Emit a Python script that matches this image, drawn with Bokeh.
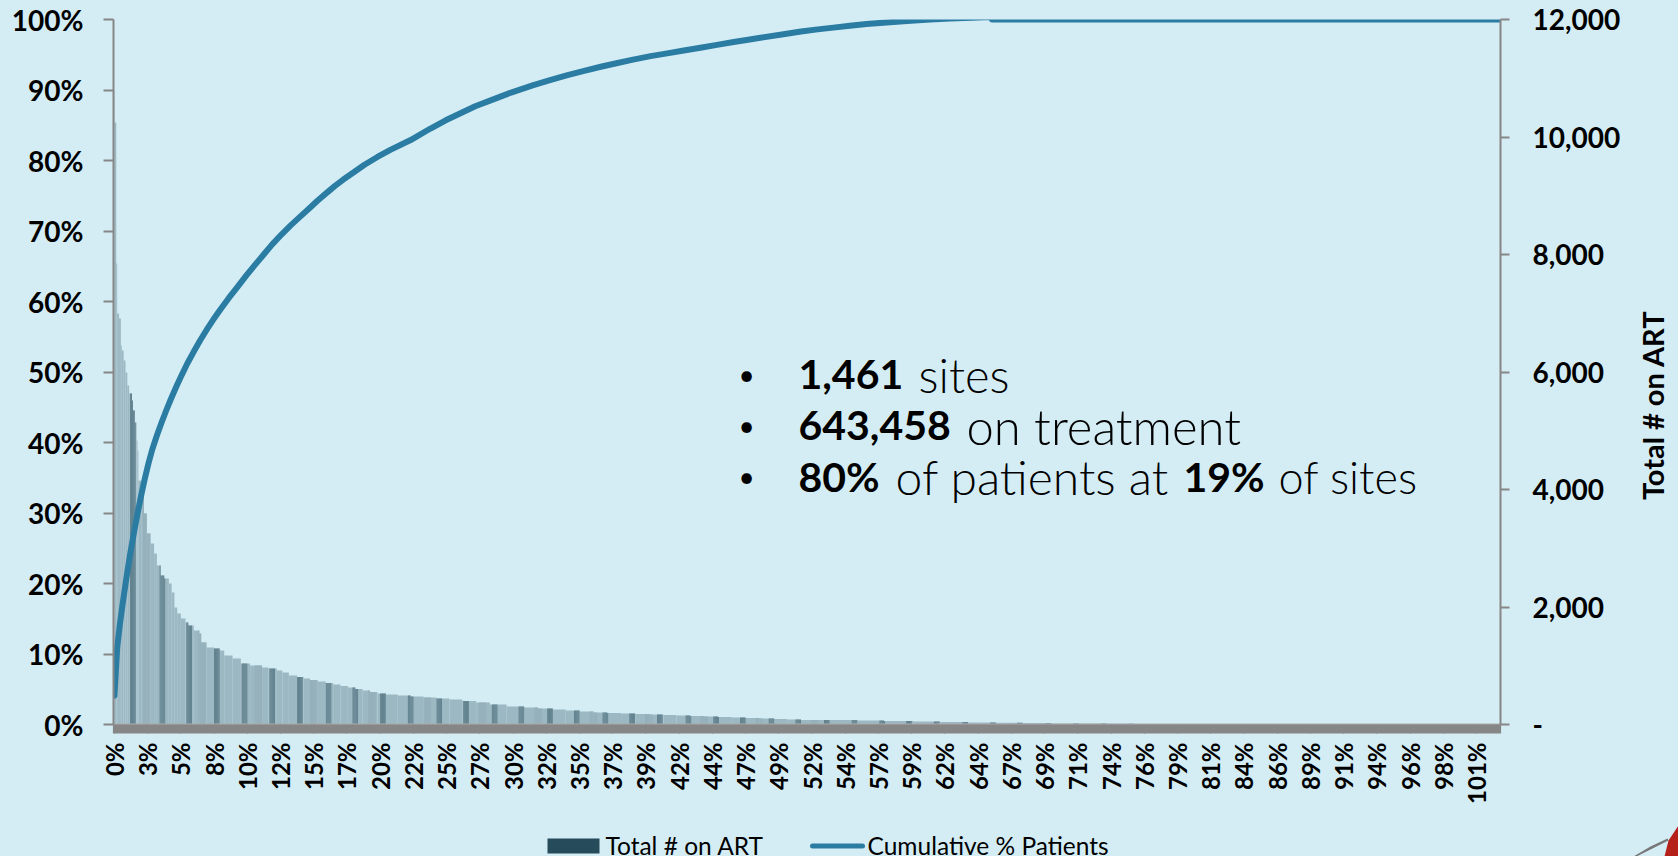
from math import pi
import bisect
from bokeh.plotting import figure
from bokeh.layouts import column, row
from bokeh.embed import file_html
from bokeh.resources import INLINE
from bokeh.core.properties import value
from bokeh.models import (Range1d, LinearAxis, FixedTicker, NumeralTickFormatter, Label)

# ---- data ----
tick_labels = ["0%","3%","5%","8%","10%","12%","15%","17%","20%","22%","25%","27%","30%","32%",
               "35%","37%","39%","42%","44%","47%","49%","52%","54%","57%","59%","62%","64%","67%",
               "69%","71%","74%","76%","79%","81%","84%","86%","89%","91%","94%","96%","98%","101%"]

rank_end = [1,3,4,6,8,9,11,13,15,17,20,21,23,25,26,27,30,33,36,40,44,47,51,55,60,63,66,69,73,78,81,87,93,95,
            101,109,115,120,129,138,148,161,168,177,183,190,199,206,213,221,230,238,246,254,262,270,278,286,
            295,308,322,336,350,364,378,393,408,426,445,460,476,490,505,520,535,550,566,581,596,610,625,640,
            655,670,685,700,716,730,745,776,806,835,867,896,926,956,986,1016,1047,1076,1106,1137,
            1167,1196,1232,1461]
on_art = [10790,10246,7846,6995,6910,6450,6365,6195,5991,5770,5634,5514,5344,5140,4834,4663,4153,4017,3591,
          3251,3081,2910,2706,2536,2485,2400,2247,1991,1889,1804,1736,1685,1600,1549,1396,1311,1294,1259,
          1174,1123,1038,1004,970,953,920,885,834,810,783,758,732,706,681,655,630,604,579,553,528,511,494,
          477,460,442,425,400,374,340,306,289,272,255,238,221,204,196,187,178,170,162,153,145,136,128,119,
          111,102,94,85,77,75,68,60,51,43,34,30,26,17,15,12,9,6,4,3,1]

stripe_rank = [18,50,79,109,139,169,199,230,259,289,319,350,379,410,439,470,499,530,559,589,620,650,679,710,
               739,770,800,830,859,889,920,950,979,1010,1040,1070,1100,1130,1160,1191]
band_rank = [32,92,153,213,276,336,396,456,516,576,636,696,756]

curve_rank = [1,4,7,10,14,18,22,26,30,34,38,42,47,52,57,62,68,74,80,87,94,101,108,116,125,134,144,154,163,172,
              182,192,202,212,221,230,240,249,260,272,286,300,322,343,360,376,392,408,430,455,473,492,510,528,
              545,563,582,600,618,636,654,672,686,701,726,745,763,780,798,816,834,860,885,907,930,950,952,1503]
curve_pct = [4.1,10.9,14.3,17.2,20.8,24.1,27.1,29.9,32.5,34.9,37.1,39.0,41.0,42.8,44.5,46.1,47.9,49.6,51.2,52.9,
             54.5,56.0,57.4,58.9,60.5,62.0,63.7,65.3,66.7,68.1,69.5,70.8,72.0,73.2,74.3,75.3,76.4,77.3,78.3,
             79.4,80.5,81.5,82.9,84.5,85.7,86.7,87.7,88.5,89.6,90.7,91.4,92.1,92.7,93.3,93.8,94.3,94.8,95.2,
             95.6,96.0,96.4,96.8,97.1,97.4,97.9,98.3,98.6,98.85,99.1,99.35,99.55,99.8,100.0,100.15,100.25,
             100.35,100,100]

BG = "#D4EDF5"; GREY = "#868686"; BAR = "#9CB8C2"; ALT = "#95B0BA"; STRIPE = "#5F7F8C"
SWATCH = "#264B5B"; LINE = "#2A7CA3"; FONT = "Lato"; LIGHT = "Lato Light"
RANKS = 1503
X0, X1, Y0, Y1 = 113, 1500, 19, 724   # frame edges on the page
W, H = 1678, 856
MAIN_W, MAIN_H = 1625, 806            # the rest holds the right title and the legend


def dx(px):
    return (px - X0) / (X1 - X0) * RANKS


def dy(py):
    return (Y1 - py) / (Y1 - Y0) * 100


def value_at(r):
    return on_art[min(bisect.bisect_left(rank_end, r), len(on_art) - 1)]


p = figure(width=MAIN_W, height=MAIN_H, output_backend="svg", toolbar_location=None,
           x_range=Range1d(0, RANKS), y_range=Range1d(0, 100),
           min_border_left=X0, min_border_right=MAIN_W - X1, min_border_top=Y0,
           min_border_bottom=MAIN_H - Y1, background_fill_color=BG, border_fill_color=BG,
           outline_line_color=None)
p.grid.visible = False
p.extra_y_ranges["art"] = Range1d(0, 12000)

# bars
lefts = [0] + rank_end[:-1]
p.quad(left=lefts, right=rank_end, bottom=0, top=on_art, y_range_name="art",
       fill_color=BAR, line_color=None)


def overlay(starts, width, color):
    # one narrow bar per site, so that the tint follows the bars' own heights
    rs = [s + k for s in starts for k in range(width)]
    p.quad(left=rs, right=[r + 1 for r in rs], bottom=0, top=[value_at(r + 1) for r in rs],
           y_range_name="art", fill_color=color, line_color=None)


overlay(band_rank, 8, ALT)
overlay(stripe_rank, 6, STRIPE)

# cumulative line
p.line(curve_rank, curve_pct, line_color=LINE, line_width=6, line_cap="round", line_join="round")

# left axis
ya = p.yaxis[0]
ya.ticker = FixedTicker(ticks=list(range(0, 101, 10)))
ya.major_label_overrides = {i: f"{i}%" for i in range(0, 101, 10)}
ya.major_tick_out = 10; ya.major_tick_in = 0; ya.major_tick_line_color = GREY; ya.major_tick_line_width = 2
ya.minor_tick_line_color = None
ya.axis_line_color = GREY; ya.axis_line_width = 2
ya.major_label_standoff = 20
ya.major_label_text_font = FONT; ya.major_label_text_font_style = "bold"
ya.major_label_text_font_size = "28px"; ya.major_label_text_color = "black"

# right axis
ra = LinearAxis(y_range_name="art", ticker=FixedTicker(ticks=list(range(0, 12001, 2000))),
                formatter=NumeralTickFormatter(format="0,0"), major_label_overrides={0: "-"})
ra.major_tick_out = 9; ra.major_tick_in = 0; ra.major_tick_line_color = GREY; ra.major_tick_line_width = 2
ra.minor_tick_line_color = None
ra.axis_line_color = GREY; ra.axis_line_width = 2
ra.major_label_standoff = 23
ra.major_label_text_font = FONT; ra.major_label_text_font_style = "bold"
ra.major_label_text_font_size = "28px"; ra.major_label_text_color = "black"
p.add_layout(ra, "right")

# bottom axis: one tick per site makes the grey band
xa = p.xaxis[0]
tick_pos = [1 + 36 * i for i in range(len(tick_labels))]
xa.ticker = FixedTicker(ticks=tick_pos, minor_ticks=list(range(0, RANKS + 1)))
xa.major_label_overrides = dict(zip(tick_pos, tick_labels))
xa.major_label_orientation = pi / 2
xa.major_tick_out = 9; xa.major_tick_in = 0; xa.minor_tick_out = 9; xa.minor_tick_in = 0
xa.major_tick_line_color = GREY; xa.minor_tick_line_color = GREY
xa.major_tick_line_width = 1; xa.minor_tick_line_width = 1.2
xa.axis_line_color = "#ABABAB"; xa.axis_line_width = 2
xa.major_label_standoff = 9
xa.major_label_text_font = FONT; xa.major_label_text_font_style = "bold"
xa.major_label_text_font_size = "24px"; xa.major_label_text_color = "black"


def text(px, py, s, bold=False, size=41, font=FONT, **kw):
    p.add_layout(Label(x=dx(px), y=dy(py), text=s, text_font=font, text_color="black",
                       text_font_size=f"{size}px", text_font_style="bold" if bold else "normal",
                       text_baseline="alphabetic", **kw))


# call-out
for py in (373, 424, 475):
    text(746, py, "•", size=28, text_align="center")
text(798, 374, "1,461", bold=True)
text(918, 374, "sites", size=47, font=LIGHT)
text(798, 425, "643,458", bold=True)
text(966, 425, "on treatment", size=49, font=LIGHT)
text(798, 476, "80%", bold=True)
text(895, 476, "of patients at", size=48, font=LIGHT)
text(1183, 476, "19%", bold=True)
text(1278, 476, "of sites", size=45, font=LIGHT)


def strip(width, height, x_start, y_start):
    # a blank figure whose data units are page pixels, for what lies outside the chart's frame
    f = figure(width=width, height=height, output_backend="svg", toolbar_location=None,
               x_range=Range1d(x_start, x_start + width), y_range=Range1d(y_start + height, y_start),
               x_axis_location=None, y_axis_location=None, min_border=0,
               background_fill_color=BG, border_fill_color=BG, outline_line_color=None)
    f.grid.visible = False
    return f


# right axis title
right = strip(W - MAIN_W, MAIN_H, MAIN_W, 0)
right.text([1652], [441], ["Total # on ART"], angle=pi / 2, text_align="center", text_baseline="middle",
           text_font=value(FONT), text_font_style="bold", text_font_size="29px", text_color="black")

# legend and the corner of the logo
foot = strip(W, H - MAIN_H, 0, MAIN_H)
foot.quad(left=[547], right=[599], top=[838], bottom=[853], fill_color=SWATCH, line_color=None)
foot.line([812, 862], [845.5, 845.5], line_color=LINE, line_width=5, line_cap="round")
foot.text([605, 867], [845, 845], ["Total # on ART", "Cumulative % Patients"], text_baseline="middle",
          text_font=value(FONT), text_font_size="24.5px", text_color="black")
foot.patch([1633, 1650, 1667, 1668, 1652, 1636], [856, 846, 838, 840, 848, 856], fill_color="#777777", line_color=None)
foot.patch([1664, 1668, 1678, 1678, 1671], [856, 840, 825, 856, 856], fill_color="#B5201A", line_color=None)

page = column(row(p, right, spacing=0), foot, spacing=0)
html = file_html(page, INLINE)
html = html.replace("</head>", f"<style>html,body{{background:{BG};}}</style></head>", 1)
open("out.html", "w").write(html)
